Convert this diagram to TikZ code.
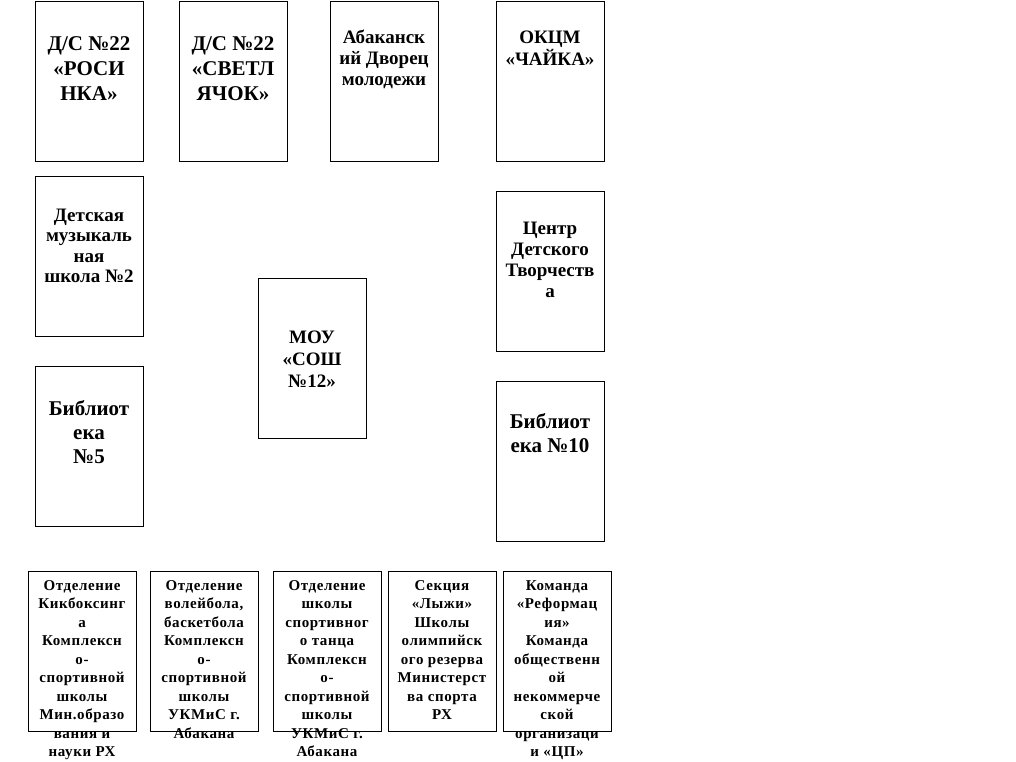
\documentclass[tikz,border=0pt]{standalone}
\usepackage{fontspec}
\setmainfont{Liberation Serif}
\newfontfamily\bsp[LetterSpace=4]{Liberation Serif}
\newcommand\fst{\rule{0pt}{0.8em}}
\begin{document}
\begin{tikzpicture}[x=1pt,y=-1pt,
  box/.style={draw=black, line width=1pt, inner sep=0pt, minimum width=108, minimum height=160, anchor=north west},
  txt/.style={anchor=north, align=center, inner sep=0pt},
  big/.style={txt, font=\bfseries\fontsize{21}{25}\selectfont},
  mid/.style={txt, font=\bfseries\fontsize{19}{21}\selectfont},
  small/.style={txt, font=\bsp\bfseries\fontsize{15}{18.5}\selectfont},
]
\useasboundingbox[fill=white] (0,0) rectangle (1016,761);
% top row
\node[box] (b1) at (35,1) {};
\node[box] (b2) at (179,1) {};
\node[box] (b3) at (330,1) {};
\node[box] (b4) at (496,1) {};
% left column
\node[box] (b5) at (35,176) {};
\node[box] (b6) at (35,366) {};
% centre
\node[box] (b7) at (258,278) {};
% right column
\node[box] (b8) at (496,191) {};
\node[box] (b9) at (496,381) {};
% bottom row
\node[box] (c1) at (28,571) {};
\node[box] (c2) at (150,571) {};
\node[box] (c3) at (273,571) {};
\node[box] (c4) at (388,571) {};
\node[box] (c5) at (503,571) {};

\node[big] (t1) at (89,33.2) {\fst Д/С №22\\«РОСИ\\НКА»};
\node[big] (t2) at (233,33.2) {\fst Д/С №22\\«СВЕТЛ\\ЯЧОК»};
\node[mid] (t3) at (384,27.8) {\fst Абаканск\\ий Дворец\\молодежи};
\node[mid, font=\bfseries\fontsize{19}{22}\selectfont] (t4) at (550,27.8) {\fst ОКЦМ\\«ЧАЙКА»};
\node[mid, font=\bfseries\fontsize{19}{20.5}\selectfont] (t5) at (89,205.8) {\fst Детская\\музыкаль\\ная\\школа №2};
\node[big, font=\bfseries\fontsize{21}{24}\selectfont] (t6) at (89,398.2) {\fst Библиот\\ека\\№5};
\node[big, font=\bfseries\fontsize{19}{22}\selectfont] (t7) at (312,327.8) {\fst МОУ\\«СОШ\\№12»};
\node[mid, font=\bfseries\fontsize{19}{21}\selectfont] (t8) at (550,218.8) {\fst Центр\\Детского\\Творчеств\\а};
\node[big, font=\bfseries\fontsize{21}{24}\selectfont] (t9) at (550,411.2) {\fst Библиот\\ека №10};

\node[small] (u1) at (82,578) {\fst Отделение\\Кикбоксинг\\а\\Комплексн\\о-\\спортивной\\школы\\Мин.образо\\вания и\\науки РХ};
\node[small] (u2) at (204,578) {\fst Отделение\\волейбола,\\баскетбола\\Комплексн\\о-\\спортивной\\школы\\УКМиС г.\\Абакана};
\node[small] (u3) at (327,578) {\fst Отделение\\школы\\спортивног\\о танца\\Комплексн\\о-\\спортивной\\школы\\УКМиС г.\\Абакана};
\node[small] (u4) at (442,578) {\fst Секция\\«Лыжи»\\Школы\\олимпийск\\ого резерва\\Министерст\\ва спорта\\РХ};
\node[small] (u5) at (557,578) {\fst Команда\\«Реформац\\ия»\\Команда\\общественн\\ой\\некоммерче\\ской\\организаци\\и «ЦП»};
\end{tikzpicture}
\end{document}
